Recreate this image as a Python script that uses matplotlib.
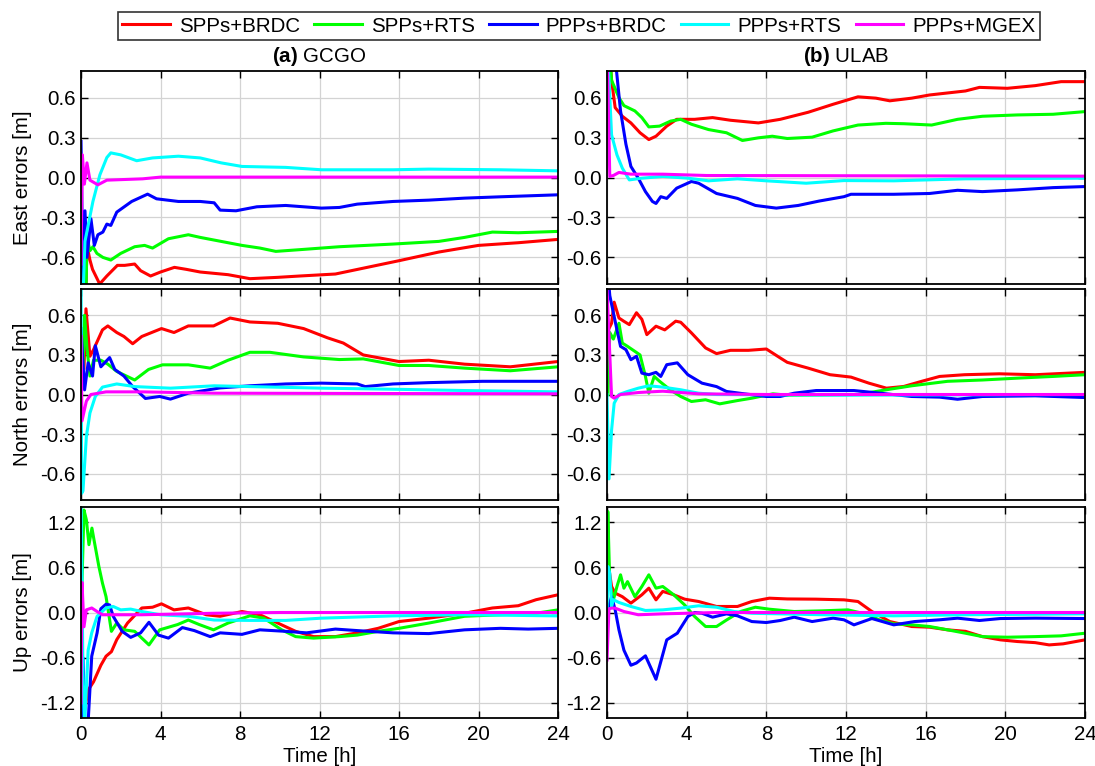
import matplotlib
matplotlib.use("Agg")
import matplotlib.pyplot as plt
from matplotlib.lines import Line2D

plt.rcParams["font.family"] = ["Liberation Sans", "DejaVu Sans"]
plt.rcParams["mathtext.fontset"] = "custom"
plt.rcParams["mathtext.rm"] = "Liberation Sans"
plt.rcParams["mathtext.bf"] = "Liberation Sans:bold"
plt.rcParams["axes.unicode_minus"] = False

# ---------------- data: (time [h], error [m]) ----------------
series_names = ["SPPs+BRDC", "SPPs+RTS", "PPPs+BRDC", "PPPs+RTS", "PPPs+MGEX"]
series_colors = ["#ff0000", "#00ff00", "#0000ff", "#00ffff", "#ff00ff"]

station_titles = [r"$\mathbf{(a)}$ GCGO", r"$\mathbf{(b)}$ ULAB"]
row_labels = ["East errors [m]", "North errors [m]", "Up errors [m]"]
x_ticks = [0, 4, 8, 12, 16, 20, 24]
en_ticks = [-0.6, -0.3, 0.0, 0.3, 0.6]
up_ticks = [-1.2, -0.6, 0.0, 0.6, 1.2]

# GCGO East
gcgo_e_spp_brdc = [(0.0, -1.5), (0.25, -0.85), (0.3, -0.51), (0.45, -0.62), (0.58, -0.69), (0.94, -0.80),
                   (1.3, -0.74), (1.83, -0.66), (2.2, -0.66), (2.7, -0.65), (3.0, -0.70), (3.5, -0.74),
                   (4.0, -0.71), (4.7, -0.675), (5.3, -0.69), (6.0, -0.71), (6.7, -0.72), (7.4, -0.73),
                   (8.5, -0.76), (9.9, -0.75), (11.0, -0.74), (12.8, -0.725), (14.4, -0.675), (16.0, -0.625),
                   (18.0, -0.56), (20.0, -0.51), (22.0, -0.49), (24.0, -0.465)]
gcgo_e_spp_rts = [(0.0, -1.5), (0.25, -0.9), (0.3, -0.45), (0.45, -0.55), (0.6, -0.52), (0.8, -0.57),
                  (1.1, -0.60), (1.5, -0.62), (2.0, -0.57), (2.7, -0.52), (3.2, -0.51), (3.6, -0.53),
                  (4.4, -0.46), (5.4, -0.43), (6.0, -0.45), (6.7, -0.47), (8.1, -0.51), (9.0, -0.53),
                  (9.8, -0.555), (11.2, -0.54), (13.0, -0.52), (15.7, -0.50), (18.0, -0.48), (19.3, -0.45),
                  (20.7, -0.41), (22.0, -0.415), (24.0, -0.405)]
gcgo_e_ppp_brdc = [(0.0, 0.27), (0.1, -0.8), (0.2, -0.25), (0.3, -0.6), (0.5, -0.31), (0.67, -0.51),
                   (0.85, -0.43), (1.1, -0.41), (1.3, -0.35), (1.5, -0.36), (1.8, -0.26), (2.55, -0.18),
                   (3.35, -0.125), (3.8, -0.16), (4.9, -0.18), (6.0, -0.18), (6.7, -0.19), (7.0, -0.245),
                   (7.8, -0.25), (8.85, -0.22), (10.3, -0.21), (12.1, -0.23), (13.0, -0.225), (13.9, -0.20),
                   (15.7, -0.18), (17.5, -0.17), (19.3, -0.155), (21.1, -0.145), (24.0, -0.13)]
gcgo_e_ppp_rts = [(0.0, -1.2), (0.1, -0.9), (0.2, -0.48), (0.6, -0.18), (0.95, 0.02), (1.3, 0.15),
                  (1.5, 0.185), (2.0, 0.17), (2.8, 0.126), (3.6, 0.147), (4.9, 0.16), (6.0, 0.147),
                  (7.05, 0.11), (8.1, 0.083), (10.3, 0.076), (12.1, 0.058), (15.7, 0.058), (17.5, 0.063),
                  (21.1, 0.058), (24.0, 0.05)]
gcgo_e_ppp_mgex = [(0.0, -0.65), (0.07, 0.17), (0.17, -0.05), (0.3, 0.11), (0.45, -0.02), (0.85, -0.055),
                   (1.3, -0.02), (3.1, -0.01), (4.0, 0.003), (24.0, 0.003)]

# GCGO North
gcgo_n_spp_brdc = [(0.15, 0.2), (0.25, 0.65), (0.45, 0.29), (0.63, 0.34), (1.08, 0.49), (1.35, 0.52),
                   (1.8, 0.47), (2.16, 0.44), (2.6, 0.385), (3.06, 0.44), (4.05, 0.50), (4.68, 0.47),
                   (5.4, 0.52), (6.67, 0.52), (7.5, 0.58), (8.5, 0.55), (9.9, 0.54), (11.2, 0.50),
                   (12.4, 0.43), (13.2, 0.39), (14.2, 0.30), (16.0, 0.25), (17.5, 0.26), (19.3, 0.23),
                   (21.6, 0.21), (24.0, 0.25)]
gcgo_n_spp_rts = [(0.1, 0.2), (0.18, 0.60), (0.3, 0.35), (0.45, 0.14), (0.63, 0.26), (1.0, 0.26),
                  (1.35, 0.23), (1.8, 0.175), (2.7, 0.11), (3.4, 0.19), (4.1, 0.225), (5.4, 0.225),
                  (6.5, 0.20), (7.4, 0.26), (8.5, 0.32), (9.5, 0.32), (11.2, 0.285), (13.0, 0.265),
                  (14.2, 0.27), (16.0, 0.22), (17.5, 0.22), (19.3, 0.20), (21.6, 0.18), (24.0, 0.21)]
gcgo_n_ppp_brdc = [(0.0, 0.5), (0.18, 0.035), (0.36, 0.24), (0.58, 0.14), (0.72, 0.37), (1.0, 0.21),
                   (1.44, 0.28), (1.7, 0.19), (2.16, 0.14), (2.6, 0.06), (3.24, -0.03), (3.96, -0.015),
                   (4.5, -0.035), (5.4, 0.01), (7.0, 0.05), (8.5, 0.066), (10.3, 0.08), (12.1, 0.086),
                   (13.9, 0.08), (14.3, 0.06), (15.7, 0.08), (17.5, 0.09), (20.2, 0.10), (24.0, 0.10)]
gcgo_n_ppp_rts = [(0.0, 1.0), (0.03, -0.75), (0.1, -0.73), (0.27, -0.32), (0.45, -0.14), (0.72, -0.015),
                  (1.08, 0.056), (1.8, 0.08), (2.7, 0.06), (4.5, 0.048), (6.7, 0.066), (8.5, 0.06),
                  (12.1, 0.048), (15.7, 0.04), (19.3, 0.03), (24.0, 0.02)]
gcgo_n_ppp_mgex = [(0.0, 0.44), (0.05, -0.2), (0.27, -0.05), (0.5, 0.0), (1.26, 0.02), (3.06, 0.02),
                   (6.7, 0.01), (24.0, 0.005)]

# GCGO Up
gcgo_u_spp_brdc = [(0.0, -1.6), (0.18, -1.3), (0.36, -1.03), (0.63, -0.92), (1.0, -0.70), (1.26, -0.58),
                   (1.53, -0.52), (1.8, -0.36), (2.34, -0.14), (3.06, 0.06), (3.6, 0.07), (4.05, 0.115),
                   (4.68, 0.035), (5.4, 0.06), (6.3, -0.03), (7.0, -0.05), (8.1, 0.013), (9.0, -0.03),
                   (9.9, -0.14), (10.8, -0.25), (11.7, -0.32), (12.8, -0.32), (13.9, -0.27), (14.95, -0.21),
                   (16.0, -0.12), (17.5, -0.075), (19.3, -0.01), (20.7, 0.06), (22.0, 0.09), (22.9, 0.17),
                   (24.0, 0.235)]
gcgo_u_spp_rts = [(0.05, 0.4), (0.15, 1.36), (0.27, 1.23), (0.4, 0.9), (0.55, 1.12), (0.65, 0.97),
                  (0.9, 0.61), (1.08, 0.39), (1.26, 0.21), (1.53, -0.25), (1.8, -0.14), (2.16, -0.23),
                  (2.7, -0.25), (3.42, -0.43), (3.96, -0.23), (4.86, -0.16), (5.4, -0.10), (5.95, -0.16),
                  (6.67, -0.23), (7.4, -0.14), (8.5, -0.044), (9.2, -0.075), (10.1, -0.23), (10.8, -0.32),
                  (11.7, -0.34), (13.0, -0.32), (13.9, -0.30), (14.95, -0.25), (16.0, -0.21), (17.5, -0.14),
                  (19.3, -0.05), (21.1, -0.03), (22.9, -0.01), (24.0, 0.035)]
gcgo_u_ppp_brdc = [(0.0, -1.6), (0.1, -0.6), (0.2, -1.5), (0.36, -1.45), (0.54, -0.58), (0.81, -0.27),
                   (1.0, 0.05), (1.26, 0.11), (1.44, 0.10), (1.62, -0.05), (2.07, -0.25), (2.5, -0.33),
                   (3.0, -0.27), (3.42, -0.13), (3.9, -0.30), (4.4, -0.34), (5.1, -0.20), (5.7, -0.24),
                   (6.5, -0.32), (7.0, -0.27), (8.1, -0.29), (9.0, -0.23), (10.3, -0.25), (11.35, -0.27),
                   (12.8, -0.22), (13.9, -0.24), (15.7, -0.27), (17.5, -0.28), (19.3, -0.23), (21.1, -0.21),
                   (22.5, -0.22), (24.0, -0.21)]
gcgo_u_ppp_rts = [(0.0, 1.6), (0.1, -0.8), (0.18, -1.5), (0.36, -0.50), (0.54, -0.27), (0.81, -0.05),
                  (1.26, 0.06), (1.62, 0.08), (2.0, 0.035), (2.5, 0.045), (3.06, 0.013), (4.0, -0.03),
                  (5.4, -0.05), (6.7, -0.10), (8.5, -0.105), (10.3, -0.105), (12.1, -0.075), (15.7, -0.045),
                  (19.3, -0.03), (24.0, -0.045)]
gcgo_u_ppp_mgex = [(0.0, -1.2), (0.05, 0.4), (0.15, -0.19), (0.27, 0.035), (0.54, 0.06), (0.81, 0.013),
                   (1.08, -0.03), (3.06, -0.03), (6.7, -0.01), (10.0, 0.0), (24.0, 0.0)]

# ULAB East
ulab_e_spp_brdc = [(0.0, 1.2), (0.23, 0.73), (0.41, 0.525), (0.77, 0.46), (1.2, 0.41), (1.66, 0.336),
                   (2.1, 0.285), (2.46, 0.31), (3.0, 0.386), (3.5, 0.437), (4.4, 0.437), (5.3, 0.45),
                   (6.2, 0.43), (7.6, 0.41), (8.7, 0.437), (10.1, 0.49), (11.35, 0.55), (12.6, 0.606),
                   (13.5, 0.596), (14.2, 0.576), (15.3, 0.596), (16.2, 0.62), (18.0, 0.65), (18.7, 0.677),
                   (20.1, 0.67), (21.5, 0.69), (22.8, 0.72), (24.0, 0.72)]
ulab_e_spp_rts = [(0.0, 1.2), (0.23, 0.73), (0.6, 0.60), (0.85, 0.54), (1.4, 0.50), (1.75, 0.45),
                  (2.1, 0.38), (2.64, 0.386), (3.2, 0.424), (3.7, 0.437), (4.24, 0.40), (5.1, 0.36),
                  (6.0, 0.336), (6.8, 0.278), (7.6, 0.298), (8.3, 0.31), (9.05, 0.293), (10.3, 0.303),
                  (11.35, 0.35), (12.6, 0.394), (14.0, 0.407), (14.9, 0.404), (16.3, 0.394), (17.6, 0.437),
                  (18.85, 0.46), (20.6, 0.47), (22.4, 0.475), (24.0, 0.495)]
ulab_e_ppp_brdc = [(0.0, 1.2), (0.41, 0.9), (0.68, 0.50), (0.95, 0.25), (1.2, 0.083), (1.57, -0.005),
                   (1.93, -0.106), (2.28, -0.18), (2.46, -0.195), (2.7, -0.144), (3.0, -0.157), (3.5, -0.08),
                   (4.24, -0.03), (4.6, -0.043), (5.5, -0.12), (6.55, -0.157), (7.45, -0.21), (8.5, -0.23),
                   (9.6, -0.21), (10.65, -0.177), (11.9, -0.144), (12.25, -0.126), (14.4, -0.126),
                   (16.2, -0.12), (17.6, -0.096), (18.85, -0.106), (20.6, -0.093), (22.4, -0.076),
                   (24.0, -0.068)]
ulab_e_ppp_rts = [(0.0, 0.45), (0.05, 0.9), (0.23, 0.32), (0.5, 0.17), (0.77, 0.07), (1.12, -0.018),
                  (1.75, -0.005), (2.8, 0.008), (4.06, -0.005), (5.1, -0.025), (6.55, -0.01), (8.0, -0.025),
                  (10.0, -0.043), (11.9, -0.023), (14.4, -0.025), (18.0, -0.01), (24.0, -0.005)]
ulab_e_ppp_mgex = [(0.0, 1.0), (0.14, 0.008), (0.32, 0.015), (0.6, 0.038), (1.2, 0.025), (2.8, 0.025),
                   (5.0, 0.015), (24.0, 0.01)]

# ULAB North
ulab_n_spp_brdc = [(0.1, 0.5), (0.23, 0.54), (0.36, 0.70), (0.6, 0.58), (0.85, 0.555), (1.12, 0.53),
                   (1.48, 0.62), (1.75, 0.57), (2.0, 0.454), (2.46, 0.518), (2.9, 0.49), (3.45, 0.556),
                   (3.7, 0.548), (4.24, 0.467), (4.95, 0.353), (5.5, 0.31), (6.2, 0.335), (7.1, 0.335),
                   (8.0, 0.345), (8.7, 0.277), (9.05, 0.244), (10.1, 0.20), (11.2, 0.15), (12.25, 0.132),
                   (13.15, 0.086), (14.03, 0.048), (14.9, 0.061), (15.8, 0.10), (16.7, 0.137), (17.95, 0.15),
                   (19.7, 0.157), (21.5, 0.15), (24.0, 0.168)]
ulab_n_spp_rts = [(0.05, 0.0), (0.14, 0.47), (0.32, 0.42), (0.6, 0.54), (0.77, 0.39), (1.03, 0.365),
                  (1.4, 0.327), (1.66, 0.30), (1.93, 0.137), (2.1, 0.01), (2.37, 0.137), (2.64, 0.10),
                  (3.17, 0.036), (3.7, -0.015), (4.24, -0.053), (4.95, -0.04), (5.66, -0.071), (6.55, -0.046),
                  (7.27, -0.028), (8.33, 0.005), (9.05, -0.005), (10.8, -0.003), (12.6, 0.0), (14.03, 0.036),
                  (15.3, 0.066), (17.1, 0.10), (18.85, 0.11), (20.6, 0.124), (22.4, 0.137), (24.0, 0.15)]
ulab_n_ppp_brdc = [(0.0, 1.0), (0.14, 0.75), (0.32, 0.62), (0.5, 0.49), (0.68, 0.365), (0.95, 0.34),
                   (1.2, 0.264), (1.48, 0.29), (1.75, 0.162), (2.1, 0.15), (2.46, 0.168), (2.7, 0.137),
                   (3.0, 0.226), (3.53, 0.24), (4.06, 0.15), (4.77, 0.086), (5.5, 0.06), (6.0, 0.023),
                   (6.9, 0.005), (8.0, -0.015), (8.7, -0.015), (9.4, 0.01), (10.5, 0.03), (12.4, 0.03),
                   (13.7, 0.01), (15.3, -0.015), (16.7, -0.02), (17.6, -0.036), (18.85, -0.015),
                   (21.5, -0.01), (24.0, -0.023)]
ulab_n_ppp_rts = [(0.0, 0.0), (0.1, -0.64), (0.23, -0.27), (0.36, -0.066), (0.6, 0.0), (1.03, 0.023),
                  (1.57, 0.048), (2.1, 0.066), (2.8, 0.056), (3.7, 0.036), (4.6, 0.01), (5.5, 0.0),
                  (12.0, -0.005), (24.0, 0.0)]
ulab_n_ppp_mgex = [(0.0, 0.8), (0.23, -0.015), (0.36, -0.028), (0.68, 0.0), (1.57, 0.015), (2.8, 0.025),
                   (4.6, 0.005), (8.0, 0.0), (24.0, 0.0)]

# ULAB Up
ulab_u_spp_brdc = [(0.0, 0.5), (0.05, 0.66), (0.23, 0.345), (0.41, 0.257), (0.77, 0.21), (1.2, 0.124),
                   (1.75, 0.235), (2.1, 0.323), (2.46, 0.168), (2.8, 0.28), (3.35, 0.235), (3.9, 0.177),
                   (4.6, 0.146), (5.5, 0.08), (6.55, 0.08), (7.27, 0.146), (8.15, 0.19), (9.05, 0.18),
                   (10.5, 0.177), (11.9, 0.168), (12.6, 0.146), (13.3, 0.013), (14.2, -0.12), (15.3, -0.186),
                   (16.2, -0.195), (17.1, -0.23), (18.0, -0.25), (18.85, -0.32), (19.75, -0.363),
                   (20.6, -0.385), (21.5, -0.40), (22.2, -0.43), (22.9, -0.416), (24.0, -0.363)]
ulab_u_spp_rts = [(0.0, 0.3), (0.04, 1.34), (0.14, 0.39), (0.32, 0.168), (0.5, 0.345), (0.68, 0.50),
                  (0.85, 0.323), (1.03, 0.41), (1.4, 0.21), (1.75, 0.345), (2.1, 0.50), (2.46, 0.323),
                  (2.8, 0.345), (3.35, 0.235), (3.9, 0.10), (4.4, -0.053), (4.95, -0.186), (5.5, -0.186),
                  (6.0, -0.10), (6.7, 0.013), (7.45, 0.07), (8.15, 0.044), (9.4, 0.013), (10.8, 0.022),
                  (12.1, 0.035), (12.95, -0.018), (13.7, -0.10), (14.4, -0.15), (15.3, -0.164),
                  (16.2, -0.186), (17.1, -0.23), (18.0, -0.275), (18.85, -0.32), (20.1, -0.328),
                  (21.5, -0.32), (22.8, -0.31), (24.0, -0.275)]
ulab_u_ppp_brdc = [(0.0, 0.0), (0.23, 0.21), (0.41, 0.035), (0.6, -0.23), (0.85, -0.50), (1.2, -0.70),
                   (1.48, -0.67), (1.93, -0.575), (2.46, -0.886), (3.0, -0.363), (3.53, -0.275),
                   (4.06, -0.053), (4.4, 0.0), (4.77, -0.01), (5.3, -0.062), (6.0, -0.018), (6.55, -0.044),
                   (7.27, -0.12), (8.0, -0.133), (8.7, -0.106), (9.4, -0.062), (10.3, -0.12), (11.35, -0.075),
                   (11.9, -0.097), (12.4, -0.164), (13.3, -0.08), (14.4, -0.164), (15.45, -0.12),
                   (16.7, -0.097), (17.6, -0.075), (18.7, -0.106), (19.75, -0.08), (21.5, -0.075),
                   (24.0, -0.08)]
ulab_u_ppp_rts = [(0.0, 0.0), (0.05, 0.61), (0.14, 0.52), (0.23, 0.08), (0.32, 0.17), (0.6, 0.133),
                  (1.2, 0.08), (1.93, 0.027), (2.8, 0.035), (3.7, 0.058), (4.6, 0.089), (5.5, 0.07),
                  (6.4, 0.013), (7.27, -0.01), (10.8, -0.03), (14.4, -0.044), (18.0, -0.03), (24.0, -0.018)]
ulab_u_ppp_mgex = [(0.0, -0.63), (0.1, 0.05), (0.23, 0.058), (0.41, 0.058), (0.85, 0.013), (1.57, -0.03),
                   (2.8, -0.018), (5.5, 0.0), (24.0, 0.0)]

panels = [
    [[gcgo_e_spp_brdc, gcgo_e_spp_rts, gcgo_e_ppp_brdc, gcgo_e_ppp_rts, gcgo_e_ppp_mgex],
     [ulab_e_spp_brdc, ulab_e_spp_rts, ulab_e_ppp_brdc, ulab_e_ppp_rts, ulab_e_ppp_mgex]],
    [[gcgo_n_spp_brdc, gcgo_n_spp_rts, gcgo_n_ppp_brdc, gcgo_n_ppp_rts, gcgo_n_ppp_mgex],
     [ulab_n_spp_brdc, ulab_n_spp_rts, ulab_n_ppp_brdc, ulab_n_ppp_rts, ulab_n_ppp_mgex]],
    [[gcgo_u_spp_brdc, gcgo_u_spp_rts, gcgo_u_ppp_brdc, gcgo_u_ppp_rts, gcgo_u_ppp_mgex],
     [ulab_u_spp_brdc, ulab_u_spp_rts, ulab_u_ppp_brdc, ulab_u_ppp_rts, ulab_u_ppp_mgex]],
]

# ---------------- layout (pixel boxes of the axes) ----------------
W, H = 1095, 766
fig = plt.figure(figsize=(W / 100, H / 100), dpi=100)
col_x = [(81, 558), (607, 1085)]
row_y = [(71, 284), (289, 500), (507, 718)]
FS = 14.8

for r in range(3):
    for c in range(2):
        x0, x1 = col_x[c]
        y0, y1 = row_y[r]
        ax = fig.add_axes([x0 / W, 1 - y1 / H, (x1 - x0) / W, (y1 - y0) / H])
        for data, color in zip(panels[r][c], series_colors):
            ts = [p[0] for p in data]
            vs = [p[1] for p in data]
            ax.plot(ts, vs, color=color, lw=2.2, solid_joinstyle="round")
        ax.set_xlim(0, 24)
        if r < 2:
            ax.set_ylim(-0.8, 0.8)
            ax.set_yticks(en_ticks)
        else:
            ax.set_ylim(-1.4, 1.4)
            ax.set_yticks(up_ticks)
        ax.set_yticklabels(["%.1f" % v for v in ax.get_yticks()])
        ax.set_xticks(x_ticks)
        if r == 2:
            ax.set_xticklabels([str(v) for v in x_ticks])
        else:
            ax.set_xticklabels([])
        ax.grid(True, color="#d3d3d3", lw=0.9)
        ax.set_axisbelow(True)
        ax.tick_params(direction="in", length=5, width=1.0, top=True, right=True,
                       labelsize=FS, colors="black")
        ax.tick_params(axis="y", pad=4)
        ax.tick_params(axis="x", pad=5)
        for s in ax.spines.values():
            s.set_linewidth(1.3)
        if c == 0:
            fig.text(23 / W, 1 - ((y0 + y1) / 2) / H, row_labels[r], rotation=90,
                     ha="center", va="center", fontsize=FS)
        if r == 0:
            fig.text(((x0 + x1) / 2) / W, 1 - 57 / H, station_titles[c],
                     ha="center", va="center", fontsize=FS)
        if r == 2:
            fig.text(((x0 + x1) / 2) / W, 1 - 757 / H, "Time [h]",
                     ha="center", va="center", fontsize=FS)

handles = [Line2D([], [], color=col, lw=2.2) for col in series_colors]
leg = fig.legend(handles, series_names, loc="center", bbox_to_anchor=(579 / W, 1 - 26 / H),
                 ncol=5, fontsize=FS, frameon=True, fancybox=False, edgecolor="black",
                 handlelength=2.3, handletextpad=0.45, columnspacing=0.7, borderpad=0.2,
                 borderaxespad=0.0)
leg.get_frame().set_linewidth(1.2)

fig.savefig("out.png", dpi=100)
